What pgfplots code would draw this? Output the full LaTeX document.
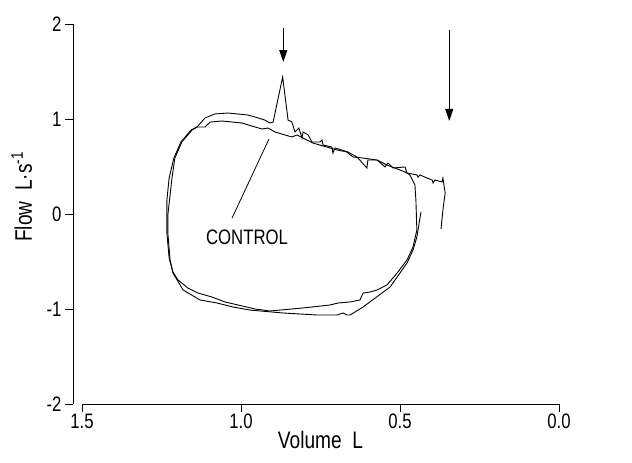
\documentclass[border=0pt]{standalone}
\usepackage{fontspec}
\setmainfont{Liberation Sans}[FakeStretch=0.8]
\usepackage{pgfplots}
\pgfplotsset{compat=1.18}
\usetikzlibrary{arrows.meta}

\begin{document}
\begin{tikzpicture}
\useasboundingbox (-82bp,-59bp) rectangle (550bp,404bp);
\begin{axis}[
    scale only axis,
    width=477bp, height=380bp,
    at={(0,0)}, anchor=south west,
    x dir=reverse,
    xmin=0, xmax=1.5, ymin=-2, ymax=2,
    axis x line*=bottom,
    axis y line*=left,
    axis y line shift=9bp,
    axis line style={line width=0.8bp},
    tick style={line width=0.8bp, black},
    tick align=outside,
    major tick length=8bp,
    xtick={0,0.5,1,1.5},
    xticklabels={0.0,0.5,1.0,1.5},
    ytick={-2,-1,0,1,2},
    yticklabels={-2,-1,0,1,2},
    tick label style={font=\fontsize{21}{24}\selectfont},
    xticklabel style={inner sep=2bp},
    xlabel={Volume~~L},
    ylabel={Flow~~L·s\textsuperscript{-1}},
    label style={font=\fontsize{24}{28}\selectfont},
    xlabel style={at={(axis description cs:0.5,-0.116)}, anchor=base},
    ylabel style={at={(axis description cs:-0.105,0.545)}, anchor=base, rotate=0},
    clip=false,
]
% control loop
\addplot[black, line width=0.9bp] coordinates {
(1.138,0.916) (1.113,0.916) (1.097,0.968) (1.060,0.979) (0.997,0.958) (0.956,0.916)
(0.934,0.895) (0.915,0.905) (0.893,0.863) (0.862,0.832) (0.840,0.811) (0.824,0.832)
(0.805,0.800) (0.774,0.747) (0.730,0.705) (0.698,0.674) (0.667,0.653) (0.648,0.600)
(0.616,0.589) (0.572,0.568) (0.541,0.516) (0.516,0.484) (0.484,0.442) (0.469,0.411)
(0.453,0.305) (0.450,0.147) (0.447,-0.168) (0.459,-0.347) (0.478,-0.484) (0.509,-0.621)
(0.541,-0.747) (0.572,-0.800) (0.594,-0.821) (0.616,-0.832) (0.626,-0.905) (0.657,-0.926)
(0.695,-0.937) (0.720,-0.958) (0.805,-0.989) (0.909,-1.021) (0.956,-1.000) (1.009,-0.958)
(1.050,-0.926) (1.091,-0.874) (1.135,-0.832) (1.167,-0.779) (1.198,-0.695) (1.214,-0.611)
(1.226,-0.463) (1.233,-0.200) (1.233,0.147) (1.226,0.379) (1.211,0.589) (1.189,0.758)
(1.157,0.884) (1.138,0.916)
};
% loop with the spike
\addplot[black, line width=0.9bp] coordinates {
(0.371,-0.158) (0.365,0.042) (0.358,0.221) (0.365,0.379) (0.368,0.337) (0.390,0.358)
(0.396,0.326) (0.399,0.358) (0.415,0.379) (0.437,0.411) (0.443,0.389) (0.447,0.411)
(0.478,0.432) (0.484,0.495) (0.522,0.484) (0.538,0.537) (0.547,0.495) (0.572,0.568)
(0.601,0.568) (0.604,0.484) (0.635,0.600) (0.664,0.653) (0.704,0.695) (0.711,0.642)
(0.714,0.705) (0.742,0.726) (0.745,0.779) (0.752,0.758) (0.777,0.758) (0.789,0.832)
(0.805,0.863) (0.808,0.800) (0.818,0.905) (0.830,0.863) (0.840,0.968) (0.852,0.989)
(0.869,1.442) (0.899,0.968) (0.909,0.958) (0.925,0.989) (0.956,1.021) (0.978,1.042)
(1.041,1.063) (1.082,1.053) (1.113,1.011) (1.138,0.916) (1.154,0.884) (1.186,0.758)
(1.208,0.589) (1.217,0.379) (1.230,-0.011) (1.230,-0.200) (1.223,-0.484) (1.214,-0.621)
(1.182,-0.800) (1.129,-0.905) (1.075,-0.937) (1.025,-0.979) (0.972,-1.011) (0.868,-1.042)
(0.761,-1.063) (0.698,-1.063) (0.679,-1.042) (0.667,-1.063) (0.657,-1.063) (0.616,-0.979)
(0.531,-0.768) (0.478,-0.516) (0.459,-0.379) (0.447,-0.242) (0.434,0.021)
};
% annotations
\draw[line width=0.8bp] (axis cs:0.912,0.789) -- (axis cs:1.028,-0.042);
\node[font=\fontsize{21}{24}\selectfont] at (axis cs:0.981,-0.242) {CONTROL};
\draw[line width=1bp, -{Triangle[length=12bp,width=8bp]}] (axis cs:0.867,1.96) -- (axis cs:0.867,1.60);
\draw[line width=1bp, -{Triangle[length=12bp,width=8bp]}] (axis cs:0.345,1.94) -- (axis cs:0.345,0.98);
\end{axis}
\end{tikzpicture}
\end{document}
